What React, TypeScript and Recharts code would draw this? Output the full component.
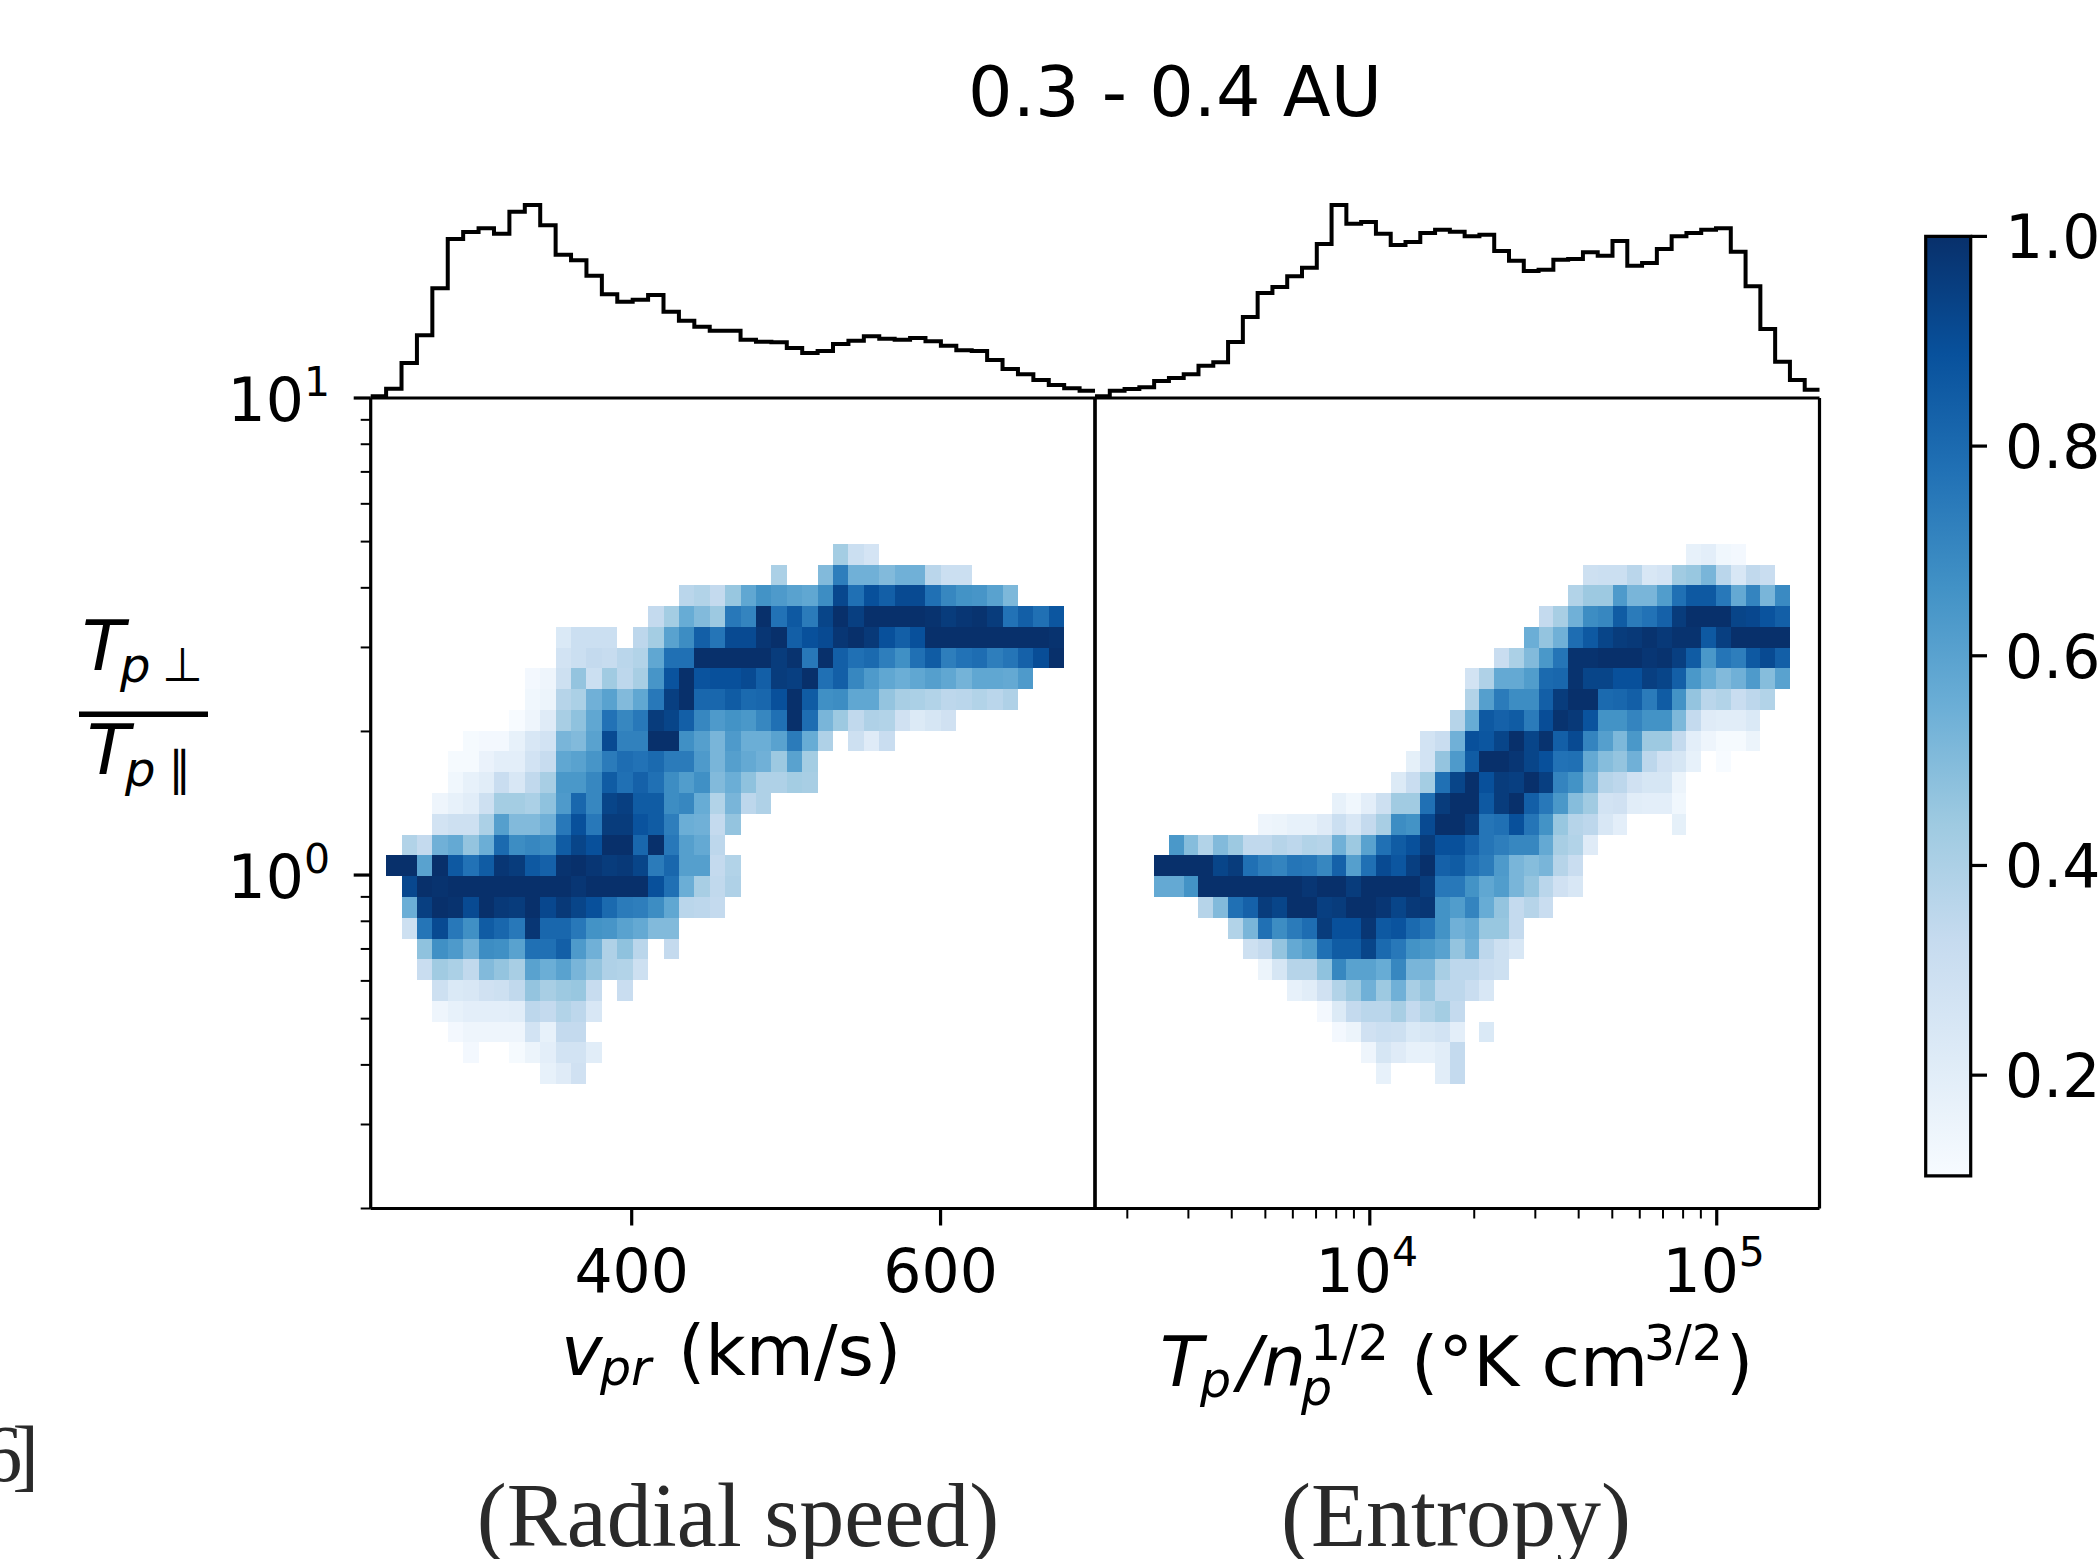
import React from "react";
import { ScatterChart, Scatter, XAxis, YAxis, ReferenceLine, LineChart, Line, BarChart, Bar } from "recharts";

// ---------- axis ticks ----------
const radialTicks = [400, 600];
const entropyTicks = [2e3,3e3,4e3,5e3,6e3,7e3,8e3,9e3,1e4,2e4,3e4,4e4,5e4,6e4,7e4,8e4,9e4,1e5];
const entropyMajor: Record<number,string> = { 10000: "4", 100000: "5" };
const ratioTicks = [0.2,0.3,0.4,0.5,0.6,0.7,0.8,0.9,1,2,3,4,5,6,7,8,9,10];
const ratioMajor: Record<number,string> = { 1: "0", 10: "1" };
const colorbarTicks = [0.2,0.4,0.6,0.8,1.0];

// ---------- y-bin centres of the heat maps ----------
const ratioBins = [4.705,4.256,3.850,3.483,3.151,2.850,2.578,2.332,2.110,1.909,1.727,1.562,1.413,1.278,1.156,1.046,0.946,0.856,0.774,0.700,0.633,0.573,0.518,0.469,0.424,0.384];

// ---------- radial-speed heat map: first column of every row, then values in percent ----------
const radialStarts = [30,26,20,18,12,12,10,10,9,6,5,5,4,4,2,1,2,2,2,3,3,4,4,5,6,11];
const radialValues = [
[42,30,26],
[40,0,0,50,73,54,54,50,54,54,36,30,30],
[36,38,33,45,58,66,63,60,58,68,92,78,89,84,91,91,78,70,66,65,60,51],
[33,42,56,50,44,75,71,100,77,86,74,93,100,95,100,100,100,100,99,96,98,99,96,77,84,78,87],
[23,30,30,30,0,35,42,60,68,84,76,91,91,98,100,84,89,91,98,100,97,89,84,89,100,100,100,100,100,100,100,100,99],
[27,30,33,32,36,38,58,78,78,100,100,100,100,100,96,99,75,100,84,78,80,73,67,78,85,73,77,79,73,76,83,90,100],
[12,14,29,46,30,43,35,41,65,88,100,88,89,89,91,84,96,95,100,78,84,70,63,58,55,58,61,58,53,58,58,57,63],
[13,15,37,40,54,60,50,58,75,95,100,81,81,85,80,81,89,100,85,67,68,58,58,46,41,40,38,35,36,38,36,39],
[10,14,21,41,47,58,77,70,75,96,93,84,70,63,66,64,70,78,100,79,52,44,34,39,38,28,22,25,28],
[11,12,12,17,24,27,52,50,60,91,72,72,100,100,67,61,52,63,55,55,60,74,56,39,0,29,21,31],
[11,11,16,19,19,27,32,58,60,65,74,79,77,80,74,74,63,52,61,57,54,44,60,42],
[13,17,20,31,24,34,41,64,64,70,85,78,83,78,68,62,67,50,55,47,39,39,42,41],
[14,17,20,29,42,42,40,47,63,81,70,93,95,85,85,68,70,56,38,52,35,39],
[27,29,29,40,61,50,50,54,75,89,75,96,96,88,85,73,55,54,33,46],
[38,33,54,57,46,55,80,68,70,68,85,93,89,100,100,81,100,75,61,57,35],
[100,100,60,100,86,77,85,98,96,86,83,99,100,98,96,97,93,74,81,61,61,33,38],
[92,100,99,100,100,100,100,100,100,100,100,98,100,100,100,100,89,78,55,41,34,39],
[55,95,100,99,91,100,97,96,100,92,97,93,89,80,74,73,68,58,36,35,33],
[29,76,91,75,67,85,81,75,98,81,81,75,66,65,60,57,50,50],
[47,67,63,54,68,67,60,78,78,84,63,54,39,47,36,0,33],
[31,43,40,34,50,46,41,60,55,60,52,46,39,38,29],
[29,23,24,28,29,34,46,41,44,45,32,0,31],
[14,17,19,19,19,20,35,33,38,35,24],
[12,14,14,14,14,27,17,33,33],
[12,0,0,11,15,19,27,27,20],
[17,21,28],
];

// ---------- entropy heat map ----------
const entropyStarts = [40,33,32,30,29,27,25,25,24,22,21,20,16,11,5,4,4,7,9,10,11,13,15,16,18,19];
const entropyValues = [
[17,19,13,12],
[29,30,30,36,24,26,43,45,52,36,24,34,31],
[38,44,44,63,52,52,62,78,86,86,75,57,71,52,69],
[33,41,54,68,70,85,74,77,83,96,100,100,100,93,92,88,84],
[55,46,54,79,86,93,96,97,99,97,99,99,86,95,100,100,100,100],
[31,40,50,64,76,99,99,100,100,100,98,99,95,85,64,76,73,86,91,84],
[27,39,57,57,62,80,81,99,93,93,89,89,95,93,84,64,56,50,54,63,49,60],
[38,61,74,68,68,84,96,100,100,80,81,84,74,85,66,46,36,38,31,35,38],
[37,56,86,83,85,74,90,99,97,88,66,66,71,66,66,51,33,21,20,20,23],
[27,31,54,89,87,93,100,93,99,84,91,71,61,51,64,44,44,33,19,14,11,11,15],
[18,27,46,63,85,100,100,98,93,89,77,78,57,49,46,54,35,28,25,17,0,10],
[22,31,42,78,93,100,89,96,95,100,95,71,66,52,37,35,28,25,25,15],
[17,13,19,29,43,43,78,96,100,100,86,96,100,84,75,64,49,43,27,28,20,19,19,13],
[14,15,17,17,21,30,24,33,41,68,66,91,100,100,96,76,78,89,76,66,45,37,35,24,19,0,0,0,18],
[64,49,38,50,44,34,34,37,35,38,37,54,44,60,78,85,89,96,89,89,83,76,73,70,70,57,41,38,21],
[100,100,100,100,93,96,78,73,71,76,75,70,83,61,78,91,87,95,100,83,85,78,74,63,52,49,52,37,31],
[57,57,66,100,100,100,100,100,100,100,98,100,100,96,100,100,100,100,96,75,75,66,58,62,52,46,36,28,24],
[37,50,78,83,96,93,100,100,95,96,100,100,98,93,97,98,66,62,71,56,46,33,37,31],
[38,52,78,68,74,79,96,89,89,98,86,88,80,76,66,54,57,45,45,33],
[29,33,46,57,62,78,85,85,93,80,75,66,64,60,46,54,35,29,24],
[15,25,37,37,47,70,60,60,56,70,52,52,41,35,35,31,29],
[17,20,28,38,44,54,44,54,41,46,35,35,31,24],
[12,22,33,36,36,41,33,38,42,33],
[12,15,28,30,29,23,25,27,19,0,23],
[14,25,21,17,17,20,33],
[17,0,0,0,20,33],
];

// ---------- marginal histograms (step heights) ----------
const radialHist = [5,28,105,188,329,477,498,509,493,559,579,518,430,413,367,311,289,295,309,259,232,214,202,202,175,169,167,150,135,141,162,172,185,178,175,180,170,157,143,141,114,87,71,54,39,29,22];
const entropyHist = [5,22,27,32,51,60,71,97,107,168,243,315,333,365,391,462,579,523,528,493,459,468,495,505,499,485,490,441,412,381,385,415,417,437,427,471,397,405,447,485,495,505,509,439,335,207,109,54,25];

// ---------- colour map ----------
const bluesStops = ["#f7fbff","#deebf7","#c6dbef","#9ecae1","#6baed6","#4292c6","#2171b5","#08519c","#08306b"];

function hex(c: string) { return [1,3,5].map(i => parseInt(c.slice(i,i+2),16)); }
function blues(v: number) {
  const t = Math.min(1, Math.max(0, (v - 0.1) / 0.9)) * (bluesStops.length - 1);
  const i = Math.min(bluesStops.length - 2, Math.floor(t));
  const a = hex(bluesStops[i]), b = hex(bluesStops[i + 1]);
  const f = t - i;
  return `rgb(${a.map((x, j) => Math.round(x + (b[j] - x) * f)).join(",")})`;
}

// ---------- layout ----------
const W = 2100, H = 1559;
const FRAME = { top: 398, bottom: 1208.5, left: 370.7, mid: 1095, right: 1819.5 };
const AXIS_W = 100, AXIS_H = 100;
const radialDomain = [231, 700];
const entropyDomain = [1614, 197800];
const ratioDomain = [0.2, 10];
const FONT = "'DejaVu Sans', sans-serif";
const LW = 3.2;
const HIST_LW = 4;

const radialBinW = (radialDomain[1] - radialDomain[0]) / 47;
const entropyBinW = Math.log10(entropyDomain[1] / entropyDomain[0]) / 49;

const radialCells = radialValues.flatMap((row, r) => row.map((v, i) => ({
  x: radialDomain[0] + radialBinW * (radialStarts[r] + i + 0.5), y: ratioBins[r], v: v / 100 }))).filter(c => c.v > 0);
const entropyCells = entropyValues.flatMap((row, r) => row.map((v, i) => ({
  x: entropyDomain[0] * Math.pow(10, entropyBinW * (entropyStarts[r] + i + 0.5)), y: ratioBins[r], v: v / 100 }))).filter(c => c.v > 0);

const radialHistData = [...radialHist.map((h, i) => ({ x: radialDomain[0] + radialBinW * i, h })), { x: radialDomain[1], h: radialHist[radialHist.length - 1] }];
const entropyHistData = [...entropyHist.map((h, i) => ({ x: entropyDomain[0] * Math.pow(10, entropyBinW * i), h })), { x: entropyDomain[1], h: entropyHist[entropyHist.length - 1] }];

function heatShape(w: number, h: number) {
  return (p: any) => {
    const x0 = Math.round(p.cx - w / 2), x1 = Math.round(p.cx + w / 2);
    const y0 = Math.round(p.cy - h / 2), y1 = Math.round(p.cy + h / 2);
    return <rect x={x0} y={y0} width={x1 - x0} height={y1 - y0} fill={blues(p.payload.v)} shapeRendering="crispEdges" />;
  };
}

const layer: React.CSSProperties = { position: "absolute", left: 0, top: 0 };

function XTick(major: (v: number) => string | null, plain?: boolean) {
  return (p: any) => {
    const v = p.payload.value;
    const sup = major(v);
    const isMajor = plain || sup !== null;
    return (
      <g>
        <line x1={p.x} x2={p.x} y1={FRAME.bottom} y2={FRAME.bottom + (isMajor ? 17 : 10)} stroke="#000" strokeWidth={isMajor ? LW : 2} />
        {plain ? (
          <text x={p.x} y={1292} textAnchor="middle" fontFamily={FONT} fontSize={60} fill="#000">{v}</text>
        ) : sup !== null ? (
          <text x={p.x - 3} y={1292} textAnchor="middle" fontFamily={FONT} fontSize={60} fill="#000">10<tspan fontSize={41} dy={-26}>{sup}</tspan></text>
        ) : null}
      </g>
    );
  };
}

function RatioTick(p: any) {
  const v = p.payload.value;
  const sup = ratioMajor[v];
  const isMajor = sup !== undefined;
  return (
    <g>
      <line x1={FRAME.left} x2={FRAME.left - (isMajor ? 17 : 10)} y1={p.y} y2={p.y} stroke="#000" strokeWidth={isMajor ? LW : 2} />
      {isMajor && <text x={330} y={p.y + 23} textAnchor="end" fontFamily={FONT} fontSize={60} fill="#000">10<tspan fontSize={41} dy={-25}>{sup}</tspan></text>}
    </g>
  );
}

function ColorbarTick(p: any) {
  return (
    <g>
      <line x1={1970.7} x2={1987} y1={p.y} y2={p.y} stroke="#000" strokeWidth={LW} />
      <text x={2005} y={p.y + 22} fontFamily={FONT} fontSize={60} fill="#000">{p.payload.value.toFixed(1)}</text>
    </g>
  );
}

const colorbarMin = 0.104;
const colorbarData = [{ c: "cb", range: [colorbarMin, 1.0] }];
const colorbarStops = bluesStops.map((c, i) => ({ off: i / (bluesStops.length - 1), c }));
const SERIF = "'Liberation Serif', serif";
const INK = "#2a2a2a";

type Run = { x: number; y: number; t: string; s?: number; i?: boolean };
function MathText({ runs }: { runs: Run[] }) {
  return (
    <text fontFamily={FONT} fill="#000">
      {runs.map((r, k) => (
        <tspan key={k} x={r.x} y={r.y} fontSize={r.s ?? 70} fontStyle={r.i ? "italic" : "normal"}>{r.t}</tspan>
      ))}
    </text>
  );
}

export default function App() {
  const marginY = { top: FRAME.top, bottom: H - FRAME.bottom - AXIS_H };
  return (
    <div style={{ position: "absolute", left: 0, top: 0, width: W, height: H, overflow: "hidden", background: "#fff" }}>
      {/* radial-speed panel */}
      <div style={layer}>
        <ScatterChart width={W} height={H} margin={{ ...marginY, left: FRAME.left - AXIS_W, right: W - FRAME.mid }}>
          <XAxis type="number" dataKey="x" domain={radialDomain} allowDataOverflow ticks={radialTicks} interval={0} height={AXIS_H}
            axisLine={{ stroke: "#000", strokeWidth: LW }} tickLine={false} tickSize={0} tickMargin={0}
            tick={XTick(() => null, true)} />
          <YAxis type="number" dataKey="y" scale="log" domain={ratioDomain} allowDataOverflow ticks={ratioTicks} interval={0} width={AXIS_W}
            axisLine={{ stroke: "#000", strokeWidth: LW }} tickLine={false} tickSize={0} tickMargin={0} tick={RatioTick} />
          <Scatter data={radialCells} isAnimationActive={false} shape={heatShape(724.3 / 47, 20.8)} />
          <ReferenceLine y={10} stroke="#000" strokeWidth={LW} />
          <ReferenceLine x={700} stroke="#000" strokeWidth={LW} />
        </ScatterChart>
      </div>
      {/* entropy panel */}
      <div style={layer}>
        <ScatterChart width={W} height={H} margin={{ ...marginY, left: FRAME.mid - AXIS_W, right: W - FRAME.right }}>
          <XAxis type="number" dataKey="x" scale="log" domain={entropyDomain} allowDataOverflow ticks={entropyTicks} interval={0} height={AXIS_H}
            axisLine={{ stroke: "#000", strokeWidth: LW }} tickLine={false} tickSize={0} tickMargin={0}
            tick={XTick((v) => entropyMajor[v] ?? null)} />
          <YAxis type="number" dataKey="y" scale="log" domain={ratioDomain} allowDataOverflow ticks={[]} width={AXIS_W}
            axisLine={{ stroke: "#000", strokeWidth: LW }} tickLine={false} tick={false} />
          <Scatter data={entropyCells} isAnimationActive={false} shape={heatShape(724.5 / 49, 20.8)} />
          <ReferenceLine y={10} stroke="#000" strokeWidth={LW} />
          <ReferenceLine x={entropyDomain[1]} stroke="#000" strokeWidth={LW} />
        </ScatterChart>
      </div>
      {/* marginal histograms */}
      <div style={layer}>
        <LineChart width={W} height={H} data={radialHistData} margin={{ top: 180, bottom: H - FRAME.top, left: FRAME.left, right: W - FRAME.mid }}>
          <XAxis type="number" dataKey="x" domain={radialDomain} hide />
          <YAxis domain={[0, 654]} hide />
          <Line type="stepAfter" dataKey="h" stroke="#000" strokeWidth={HIST_LW} dot={false} isAnimationActive={false} strokeLinejoin="miter" />
        </LineChart>
      </div>
      <div style={layer}>
        <LineChart width={W} height={H} data={entropyHistData} margin={{ top: 180, bottom: H - FRAME.top, left: FRAME.mid, right: W - FRAME.right }}>
          <XAxis type="number" dataKey="x" scale="log" domain={entropyDomain} hide />
          <YAxis domain={[0, 654]} hide />
          <Line type="stepAfter" dataKey="h" stroke="#000" strokeWidth={HIST_LW} dot={false} isAnimationActive={false} strokeLinejoin="miter" />
        </LineChart>
      </div>
      {/* colour bar */}
      <div style={layer}>
        <BarChart width={W} height={H} data={colorbarData} barCategoryGap={0} margin={{ top: 236.4, bottom: H - 1175.8, left: 1925.7, right: W - 1970.7 - AXIS_W }}>
          <defs>
            <linearGradient id="bluesGrad" x1="0" y1="1" x2="0" y2="0">
              {colorbarStops.map((s) => <stop key={s.off} offset={s.off} stopColor={s.c} />)}
            </linearGradient>
          </defs>
          <XAxis dataKey="c" hide />
          <YAxis orientation="right" type="number" domain={[colorbarMin, 1.0]} ticks={colorbarTicks} interval={0} width={AXIS_W}
            axisLine={false} tickLine={false} tickSize={0} tickMargin={0} tick={ColorbarTick} />
          <Bar dataKey="range" fill="url(#bluesGrad)" stroke="#000" strokeWidth={LW} isAnimationActive={false} />
        </BarChart>
      </div>
      {/* titles and labels */}
      <svg width={W} height={H} style={{ ...layer, pointerEvents: "none" }}>
        <text x={1175} y={116} textAnchor="middle" fontFamily={FONT} fontSize={70} fill="#000">0.3 - 0.4 AU</text>

        <MathText runs={[
          { x: 561, y: 1375, i: true, t: "v" },
          { x: 600, y: 1385, s: 49, i: true, t: "pr" },
          { x: 678, y: 1375, t: "(km/s)" },
        ]} />
        <MathText runs={[
          { x: 1160, y: 1386, i: true, t: "T" },
          { x: 1200, y: 1397, s: 49, i: true, t: "p" },
          { x: 1238, y: 1386, i: true, t: "/n" },
          { x: 1310, y: 1360, s: 49, t: "1/2" },
          { x: 1301, y: 1405, s: 49, i: true, t: "p" },
          { x: 1411, y: 1386, t: "(°K cm" },
          { x: 1644, y: 1360, s: 49, t: "3/2" },
          { x: 1726, y: 1386, t: ")" },
        ]} />

        <text x={738} y={1546} textAnchor="middle" fontFamily={SERIF} fontSize={90} fill={INK}>(Radial speed)</text>
        <text x={1456} y={1546} textAnchor="middle" fontFamily={SERIF} fontSize={90} fill={INK}>(Entropy)</text>
        <text x={29} y={1481} textAnchor="end" fontFamily={SERIF} fontSize={80} fill={INK} letterSpacing={-10}>[6]</text>

        <MathText runs={[
          { x: 82, y: 670, i: true, t: "T" },
          { x: 120, y: 682, s: 48, i: true, t: "p" },
          { x: 162, y: 681, s: 47, t: "⊥" },
        ]} />
        <rect x={79} y={711.5} width={129} height={5.5} fill="#000" />
        <MathText runs={[
          { x: 87, y: 774, i: true, t: "T" },
          { x: 125, y: 786, s: 48, i: true, t: "p" },
          { x: 168, y: 785, s: 47, t: "∥" },
        ]} />
      </svg>
    </div>
  );
}
